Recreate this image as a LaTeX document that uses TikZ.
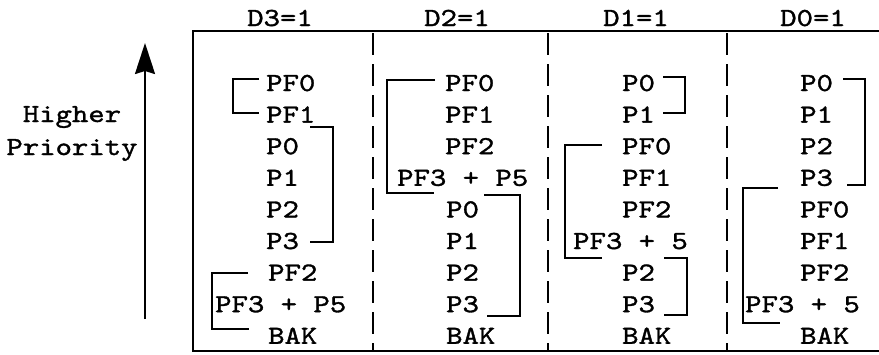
\documentclass[tikz,border=0pt]{standalone}
\usepackage{fontspec}
\newfontfamily\typefont[FakeStretch=1.2,FakeBold=1.3]{lmmono10-regular.otf}
\usetikzlibrary{arrows.meta}

\begin{document}
\begin{tikzpicture}[
        x=1pt, y=-1pt,
        entry/.style={
            font=\typefont\fontsize{26}{33}\selectfont,
            inner sep=0pt,
            anchor=base west
        },
        heading/.style={
            font=\typefont\fontsize{26}{33}\selectfont,
            inner sep=0pt,
            anchor=base
        },
        frame/.style={line width=1.8pt},
        divider/.style={line width=1.4pt, dash pattern=on 22pt off 9pt},
        bracket/.style={line width=1.6pt}
    ]
    \useasboundingbox (0,0) rectangle (879,354);

    % outer frame and column dividers
    \draw[frame] (879,31) -- (193,31) -- (193,351) -- (879,351);
    \foreach \xx in {373,548,727}
        \draw[divider] (\xx,33) -- (\xx,350);

    % column headings
    \node[heading] (head3) at (280,26) {D3=1};
    \node[heading] (head2) at (457,26) {D2=1};
    \node[heading] (head1) at (636,26) {D1=1};
    \node[heading] (head0) at (813,26) {D0=1};

    % priority arrow
    \node[heading, align=center] (prio) at (72,155) {Higher\\Priority};
    \coordinate (low) at (145,319);
    \coordinate (high) at (145,43);
    \draw[-{Stealth[length=31pt,width=20pt,inset=3pt]}, line width=2pt] (low) -- (high);

    % column D3
    \foreach \txt/\xx [count=\i] in {PF0/266,PF1/266,P0/266,P1/266,P2/266,P3/266,PF2/268,PF3 + P5/215,BAK/268}
        \node[entry] (d3-\i) at (\xx,{91+31.6*(\i-1)}) {\txt};

    % column D2
    \foreach \txt/\xx [count=\i] in {PF0/445,PF1/445,PF2/445,PF3 + P5/397,P0/446,P1/446,P2/446,P3/446,BAK/446}
        \node[entry] (d2-\i) at (\xx,{91+31.6*(\i-1)}) {\txt};

    % column D1
    \foreach \txt/\xx [count=\i] in {P0/622,P1/622,PF0/622,PF1/622,PF2/622,PF3 + 5/573,P2/622,P3/622,BAK/622}
        \node[entry] (d1-\i) at (\xx,{91+31.6*(\i-1)}) {\txt};

    % column D0
    \foreach \txt/\xx [count=\i] in {P0/800,P1/800,P2/800,P3/800,PF0/800,PF1/800,PF2/800,PF3 + 5/745,BAK/800}
        \node[entry] (d0-\i) at (\xx,{91+31.6*(\i-1)}) {\txt};

    % brackets
    \draw[bracket] (259,79) -- (233,79) -- (233,113) -- (259,113);
    \draw[bracket] (310,127) -- (333,127) -- (333,242) -- (310,242);
    \draw[bracket] (248,273) -- (212,273) -- (212,329) -- (249,329);

    \draw[bracket] (435,80) -- (387,80) -- (387,193) -- (434,193);
    \draw[bracket] (484,195) -- (520,195) -- (520,316) -- (487,316);

    \draw[bracket] (663,77) -- (685,77) -- (685,113) -- (663,113);
    \draw[bracket] (602,145) -- (565,145) -- (565,258) -- (602,258);
    \draw[bracket] (664,258) -- (687,258) -- (687,315) -- (664,315);

    \draw[bracket] (843,79) -- (865,79) -- (865,185) -- (847,185);
    \draw[bracket] (778,188) -- (743,188) -- (743,323) -- (780,323);

\end{tikzpicture}
\end{document}
